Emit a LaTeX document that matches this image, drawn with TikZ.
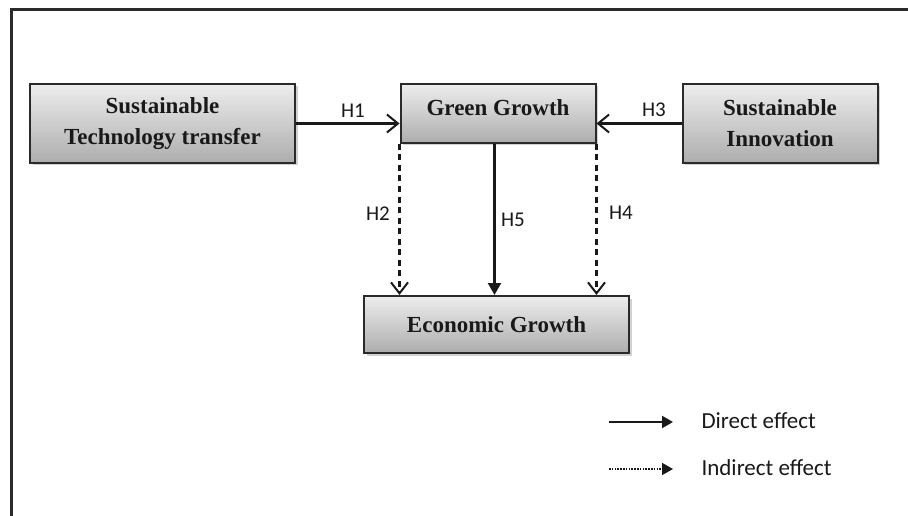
\documentclass[tikz,border=0pt]{standalone}
\usepackage{fontspec}
\setmainfont{Liberation Serif}
\newfontfamily\lblfont{Carlito}
\usetikzlibrary{arrows.meta}
\usetikzlibrary{shadows}
\definecolor{rahmen}{HTML}{2A2A2A}
\definecolor{boxtop}{HTML}{EDEDED}
\definecolor{boxbot}{HTML}{ADADAD}

\begin{document}
\begin{tikzpicture}[x=1pt,y=-1pt,
        box/.style={draw=rahmen, line width=2pt, rectangle, top color=boxtop, bottom color=boxbot,
            drop shadow={shadow xshift=2.5pt, shadow yshift=-2.5pt, fill=gray!60, opacity=.6},
            align=center, inner sep=0pt, font=\fontsize{23}{31}\selectfont\bfseries, text=black!90},
        hlab/.style={font=\lblfont\fontsize{21}{24}\selectfont, text=black!90},
        leg/.style={font=\lblfont\fontsize{23}{26}\selectfont, text=black!90, anchor=west},
        every edge/.style={draw=black!90, line width=2.2pt}]
        \useasboundingbox (0,0) rectangle (908,516);

        % frame
        \draw[rahmen, line width=3pt] (908,10) -- (11,10) -- (11,516);

        \node[box, minimum width=265pt, minimum height=79pt] (T) at (162.5, 123.5) {Sustainable\\Technology transfer};

        \node[box, minimum width=195pt, minimum height=59pt, text depth=12pt] (G) at (498, 113.5) {Green Growth};

        \node[box, minimum width=195pt, minimum height=79pt] (I) at (780, 123.5) {Sustainable\\Innovation};

        \node[box, minimum width=265pt, minimum height=57pt] (E) at (496.5, 324.5) {Economic Growth};

        \node[hlab] (H1) at (353, 111) {H1};
        \node[hlab] (H3) at (654, 110) {H3};
        \node[hlab] (H2) at (378, 214) {H2};
        \node[hlab] (H5) at (513, 220) {H5};
        \node[hlab] (H4) at (621, 213) {H4};

        \path [-{Straight Barb[length=11pt,width=18pt,line width=2pt]}](T.east) edge (T.east -| G.west);
        \path [-{Straight Barb[length=11pt,width=18pt,line width=2pt]}](I.west) edge (I.west -| G.east);
        \path [-{Straight Barb[length=11pt,width=17pt,line width=2pt]}, dash pattern=on 6pt off 4.5pt](G.south west) edge (G.south west |- E.north);
        \path [-{Straight Barb[length=11pt,width=17pt,line width=2pt]}, dash pattern=on 6pt off 4.5pt](G.south east) edge (G.south east |- E.north);
        \path [-{Triangle[length=12pt,width=13pt]}]([xshift=-3.5pt]G.south) edge ([xshift=-3.5pt]G.south |- E.north);

        % legend
        \coordinate (d1) at (609, 422);
        \coordinate (d2) at (673, 422);
        \coordinate (i1) at (609, 469);
        \coordinate (i2) at (673, 469);
        \path [-{Triangle[length=11pt,width=12pt]}](d1) edge (d2);
        \path [-{Triangle[length=11pt,width=12pt]}](i1) edge[line width=1.6pt, dash pattern=on 1.6pt off 1.2pt] (i2);
        \node[leg] (D) at (698, 421) {Direct effect};
        \node[leg] (N) at (698, 468) {Indirect effect};

    \end{tikzpicture}
\end{document}
